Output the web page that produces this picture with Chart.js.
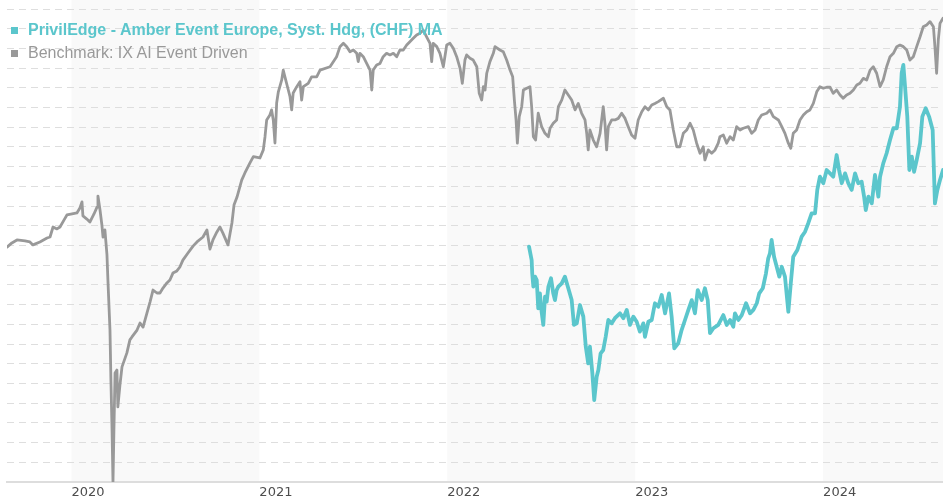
<!DOCTYPE html>
<html>
<head>
<meta charset="utf-8">
<script src="https://cdn.jsdelivr.net/npm/chart.js@4.4.1/dist/chart.umd.min.js"></script>
<style>
    html, body { margin: 0; padding: 0; background: #fff; }
    #wrap { position: relative; width: 943px; height: 500px; }
    #legend {
        position: absolute; left: 11px; top: 18px;
        font-family: "Liberation Sans", Arial, sans-serif;
        font-size: 16px; line-height: 23px; pointer-events: none;
    }
    #legend .item { white-space: nowrap; }
    #legend .box { display: inline-block; width: 7px; height: 7px; margin-right: 10px; vertical-align: 1px; }
</style>
</head>
<body>
<div id="wrap">
    <canvas id="myChart" width="943" height="500"></canvas>
    <div id="legend"></div>
</div>
<script>
// x values are fractional years, y values an index without printed scale
const seriesNames = ['PrivilEdge - Amber Event Europe, Syst. Hdg, (CHF) MA', 'Benchmark: IX AI Event Driven']
const seriesColors = ['#5bc6cc', '#999999']
const yearTicks = [2020, 2021, 2022, 2023, 2024]
const shadedYears = [2020, 2022, 2024]

const fundX = [
    2022.435, 2022.449, 2022.452, 2022.458, 2022.467, 2022.476, 2022.484, 2022.493, 2022.502, 2022.511,
    2022.520, 2022.529, 2022.538, 2022.552, 2022.564, 2022.573, 2022.582, 2022.591, 2022.609, 2022.626,
    2022.644, 2022.662, 2022.674, 2022.689, 2022.706, 2022.724, 2022.737, 2022.750, 2022.759, 2022.772,
    2022.782, 2022.795, 2022.804, 2022.816, 2022.830, 2022.843, 2022.857, 2022.875, 2022.892, 2022.919,
    2022.937, 2022.955, 2022.972, 2022.990, 2023.008, 2023.025, 2023.043, 2023.052, 2023.070, 2023.088,
    2023.105, 2023.123, 2023.141, 2023.159, 2023.180, 2023.194, 2023.208, 2023.229, 2023.247, 2023.265,
    2023.283, 2023.301, 2023.318, 2023.333, 2023.354, 2023.371, 2023.386, 2023.398, 2023.416, 2023.442,
    2023.469, 2023.487, 2023.505, 2023.522, 2023.531, 2023.549, 2023.567, 2023.590, 2023.611, 2023.629,
    2023.647, 2023.660, 2023.679, 2023.696, 2023.708, 2023.717, 2023.726, 2023.739, 2023.753, 2023.767,
    2023.780, 2023.797, 2023.815, 2023.828, 2023.841, 2023.863, 2023.886, 2023.904, 2023.921, 2023.939,
    2023.957, 2023.969, 2023.983, 2024.001, 2024.019, 2024.037, 2024.054, 2024.072, 2024.085, 2024.099,
    2024.117, 2024.134, 2024.152, 2024.170, 2024.187, 2024.205, 2024.218, 2024.227, 2024.241, 2024.259,
    2024.276, 2024.294, 2024.303, 2024.320, 2024.338, 2024.356, 2024.374, 2024.392, 2024.409, 2024.418,
    2024.427, 2024.436, 2024.448, 2024.459, 2024.472, 2024.484, 2024.498, 2024.516, 2024.528, 2024.546,
    2024.564, 2024.583, 2024.595, 2024.608, 2024.622, 2024.638
]
const fundY = [
    119.4, 112.6, 105.9, 99.1, 104.2, 102.5, 88.1, 95.7, 86.4, 79.7,
    94.0, 91.5, 99.1, 103.4, 95.7, 92.3, 97.4, 99.1, 100.8, 104.2,
    98.3, 92.3, 79.7, 80.5, 89.8, 83.9, 68.7, 60.2, 68.7, 55.2,
    41.6, 53.4, 56.8, 65.3, 67.0, 73.7, 82.2, 80.5, 83.1, 85.6,
    83.1, 87.3, 79.7, 83.9, 81.3, 76.3, 80.5, 73.7, 81.3, 82.2,
    90.7, 88.9, 94.9, 85.6, 95.7, 83.9, 67.8, 70.4, 77.1, 82.2,
    87.3, 92.3, 85.6, 97.4, 92.3, 98.3, 92.3, 75.5, 78.0, 79.7,
    84.7, 79.7, 82.2, 78.8, 85.6, 82.2, 84.7, 90.7, 85.6, 87.3,
    90.7, 95.7, 98.3, 105.9, 113.5, 116.0, 122.8, 114.3, 109.2, 104.2,
    109.2, 104.2, 86.4, 100.8, 114.3, 117.7, 124.5, 127.0, 131.3, 136.3,
    136.3, 148.2, 154.9, 151.6, 158.3, 156.6, 154.9, 165.9, 158.3, 151.6,
    156.6, 151.6, 148.2, 156.6, 151.6, 152.4, 144.8, 138.0, 144.8, 141.4,
    155.8, 144.8, 154.9, 161.7, 166.8, 173.5, 179.5, 179.5, 190.4, 207.4,
    211.6, 200.6, 185.4, 158.3, 165.1, 157.4, 163.4, 171.9, 185.4, 189.6,
    185.4, 178.6, 141.4, 148.2, 153.2, 158.3
]

const benchX = [
    2019.657, 2019.683, 2019.710, 2019.753, 2019.779, 2019.795, 2019.832, 2019.870, 2019.886, 2019.902,
    2019.923, 2019.939, 2019.960, 2019.976, 2020.003, 2020.029, 2020.045, 2020.056, 2020.061, 2020.082,
    2020.098, 2020.120, 2020.136, 2020.141, 2020.152, 2020.162, 2020.168, 2020.178, 2020.189, 2020.194,
    2020.205, 2020.210, 2020.216, 2020.221, 2020.226, 2020.232, 2020.242, 2020.247, 2020.258, 2020.269,
    2020.295, 2020.311, 2020.322, 2020.349, 2020.365, 2020.381, 2020.402, 2020.418, 2020.434, 2020.455,
    2020.471, 2020.487, 2020.508, 2020.524, 2020.540, 2020.561, 2020.577, 2020.593, 2020.620, 2020.647,
    2020.668, 2020.700, 2020.721, 2020.737, 2020.753, 2020.774, 2020.790, 2020.806, 2020.833, 2020.854,
    2020.865, 2020.881, 2020.906, 2020.923, 2020.950, 2020.968, 2021.003, 2021.021, 2021.030, 2021.039,
    2021.056, 2021.065, 2021.074, 2021.083, 2021.092, 2021.101, 2021.119, 2021.127, 2021.136, 2021.154,
    2021.163, 2021.172, 2021.180, 2021.199, 2021.216, 2021.225, 2021.234, 2021.260, 2021.278, 2021.305,
    2021.323, 2021.376, 2021.411, 2021.429, 2021.447, 2021.465, 2021.482, 2021.500, 2021.518, 2021.526,
    2021.535, 2021.553, 2021.571, 2021.589, 2021.598, 2021.606, 2021.624, 2021.642, 2021.659, 2021.677,
    2021.695, 2021.713, 2021.731, 2021.748, 2021.766, 2021.784, 2021.801, 2021.819, 2021.837, 2021.855,
    2021.872, 2021.890, 2021.908, 2021.917, 2021.925, 2021.944, 2021.961, 2021.979, 2021.997, 2022.014,
    2022.032, 2022.050, 2022.068, 2022.080, 2022.094, 2022.103, 2022.121, 2022.138, 2022.157, 2022.170,
    2022.183, 2022.192, 2022.201, 2022.210, 2022.227, 2022.245, 2022.254, 2022.280, 2022.298, 2022.316,
    2022.334, 2022.348, 2022.357, 2022.366, 2022.373, 2022.383, 2022.396, 2022.405, 2022.423, 2022.440,
    2022.449, 2022.458, 2022.470, 2022.484, 2022.502, 2022.520, 2022.538, 2022.547, 2022.564, 2022.582,
    2022.591, 2022.609, 2022.626, 2022.644, 2022.662, 2022.680, 2022.697, 2022.715, 2022.733, 2022.742,
    2022.750, 2022.759, 2022.777, 2022.795, 2022.813, 2022.830, 2022.839, 2022.848, 2022.857, 2022.875,
    2022.892, 2022.910, 2022.928, 2022.946, 2022.963, 2022.981, 2022.999, 2023.016, 2023.035, 2023.052,
    2023.070, 2023.088, 2023.105, 2023.123, 2023.150, 2023.168, 2023.185, 2023.203, 2023.221, 2023.238,
    2023.256, 2023.274, 2023.292, 2023.309, 2023.327, 2023.345, 2023.362, 2023.371, 2023.389, 2023.407,
    2023.425, 2023.442, 2023.451, 2023.469, 2023.487, 2023.505, 2023.522, 2023.540, 2023.558, 2023.575,
    2023.602, 2023.620, 2023.638, 2023.655, 2023.673, 2023.700, 2023.717, 2023.735, 2023.762, 2023.780,
    2023.797, 2023.815, 2023.828, 2023.841, 2023.859, 2023.877, 2023.895, 2023.913, 2023.930, 2023.948,
    2023.966, 2023.983, 2024.001, 2024.019, 2024.037, 2024.054, 2024.072, 2024.090, 2024.107, 2024.125,
    2024.143, 2024.161, 2024.179, 2024.196, 2024.214, 2024.232, 2024.250, 2024.267, 2024.285, 2024.303,
    2024.320, 2024.338, 2024.356, 2024.374, 2024.392, 2024.409, 2024.427, 2024.445, 2024.462, 2024.480,
    2024.498, 2024.516, 2024.533, 2024.551, 2024.569, 2024.587, 2024.595, 2024.604, 2024.613, 2024.622, 2024.638
]
const benchY = [
    119.2, 121.3, 122.8, 122.3, 121.8, 120.3, 121.8, 123.8, 124.3, 129.4,
    128.4, 129.4, 132.9, 135.5, 136.0, 136.5, 139.0, 142.1, 135.0, 133.4,
    131.9, 136.0, 139.5, 145.1, 138.0, 130.4, 124.3, 127.9, 115.2, 102.5,
    77.1, 51.8, 26.4, 0, 26.4, 55.3, 56.8, 38.1, 49.2, 58.4,
    65.5, 72.1, 73.6, 77.1, 80.7, 78.6, 85.8, 91.3, 97.4, 95.9,
    95.9, 98.4, 101.0, 102.5, 106.0, 107.1, 109.1, 112.6, 116.2, 119.7,
    121.8, 124.3, 127.9, 118.2, 122.8, 126.9, 129.4, 126.3, 120.3, 131.4,
    140.5, 144.6, 153.2, 156.8, 161.9, 165.1, 164.4, 168.5, 175.2, 183.7,
    186.2, 188.8, 183.7, 172.0, 192.3, 198.0, 204.0, 209.0, 205.6, 198.9,
    195.5, 188.8, 197.4, 200.6, 203.1, 193.8, 200.6, 202.3, 205.6, 205.6,
    209.0, 210.7, 215.8, 220.9, 222.6, 220.9, 218.3, 219.2, 217.5, 213.3,
    217.5, 215.8, 212.4, 209.0, 198.9, 209.0, 211.6, 212.4, 215.8, 217.5,
    216.7, 217.5, 215.8, 219.2, 219.2, 221.7, 223.4, 225.1, 226.8, 227.7,
    229.3, 225.9, 222.6, 213.3, 222.6, 220.9, 217.5, 210.7, 221.7, 222.6,
    220.1, 215.8, 209.9, 202.3, 214.1, 216.7, 215.0, 214.1, 210.7, 197.2,
    193.8, 200.6, 198.9, 207.4, 213.3, 217.5, 220.9, 219.2, 218.3, 214.1,
    209.0, 205.6, 193.8, 183.7, 171.9, 185.4, 190.4, 198.9, 199.8, 200.6,
    190.4, 175.2, 173.5, 187.1, 180.3, 176.9, 175.2, 179.5, 182.0, 183.7,
    190.4, 193.8, 198.9, 196.4, 193.8, 188.8, 192.1, 187.1, 183.7, 176.9,
    168.5, 178.6, 173.5, 170.1, 176.9, 190.4, 182.0, 168.5, 180.3, 183.7,
    183.7, 184.5, 187.1, 184.5, 180.3, 176.1, 174.4, 183.7, 187.9, 190.4,
    188.8, 191.3, 192.1, 193.0, 194.7, 190.4, 188.8, 178.6, 170.1, 170.1,
    176.9, 178.6, 182.0, 178.6, 171.9, 166.8, 170.1, 163.4, 168.5, 166.8,
    168.5, 171.9, 175.2, 176.1, 171.9, 175.2, 173.5, 180.3, 178.6, 179.5,
    180.3, 176.9, 178.6, 183.7, 186.2, 187.1, 188.8, 185.4, 183.7, 180.3,
    176.9, 171.9, 169.3, 176.9, 178.6, 183.7, 186.2, 187.9, 188.8, 192.1,
    198.0, 200.6, 199.8, 200.3, 200.3, 197.2, 198.9, 196.4, 194.7, 196.4,
    197.2, 198.9, 201.4, 202.3, 204.8, 204.0, 209.0, 210.7, 207.4, 200.6,
    204.0, 210.7, 215.8, 217.5, 220.9, 221.7, 220.9, 219.2, 214.1, 215.8,
    220.9, 225.9, 231.0, 231.9, 233.6, 231.0, 220.9, 207.4, 224.3, 232.7, 235.3
]

const toPoints = (xs, ys) => xs.map((x, i) => ({ x: x, y: ys[i] }))

// light grey band behind every other calendar year
const yearBands = {
    id: 'yearBands',
    beforeDraw(chart) {
        const { ctx, chartArea, scales } = chart
        const x = scales.x
        ctx.save()
        ctx.fillStyle = '#f9f9f9'
        shadedYears.forEach(year => {
            const left = Math.max(x.getPixelForValue(year), chartArea.left)
            const right = Math.min(x.getPixelForValue(year + 1), chartArea.right)
            if (right > left) ctx.fillRect(left, 0, right - left, chartArea.bottom)
        })
        ctx.restore()
    }
}

// html legend, first entry bold
const legendEl = document.getElementById('legend')
seriesNames.forEach((name, i) => {
    const row = document.createElement('div')
    row.className = 'item'
    row.style.color = seriesColors[i]
    row.style.fontWeight = i === 0 ? 'bold' : 'normal'
    const box = document.createElement('span')
    box.className = 'box'
    box.style.background = seriesColors[i]
    row.appendChild(box)
    row.appendChild(document.createTextNode(name))
    legendEl.appendChild(row)
})

const ctx = document.getElementById('myChart').getContext('2d')
const chart = new Chart(ctx, {
    type: 'line',
    data: {
        datasets: [{
            label: seriesNames[0],
            data: toPoints(fundX, fundY),
            borderColor: seriesColors[0],
            borderWidth: 3.8
        }, {
            label: seriesNames[1],
            data: toPoints(benchX, benchY),
            borderColor: seriesColors[1],
            borderWidth: 2.8
        }]
    },
    options: {
        responsive: false,
        animation: false,
        layout: { padding: { left: 7, top: 9, right: 0, bottom: 0 } },
        elements: {
            point: { radius: 0, hoverRadius: 0 },
            line: { tension: 0, borderJoinStyle: 'round', borderCapStyle: 'round' }
        },
        plugins: {
            legend: { display: false },
            tooltip: { enabled: false }
        },
        scales: {
            x: {
                type: 'linear',
                min: 2019.657,
                max: 2024.638,
                afterBuildTicks: axis => { axis.ticks = yearTicks.map(v => ({ value: v })) },
                afterFit: axis => { axis.height = 18 },
                grid: { display: false, drawTicks: false },
                border: { display: true, color: '#dddddd', width: 2 },
                ticks: {
                    align: 'start',
                    padding: 3,
                    maxRotation: 0,
                    autoSkip: false,
                    color: '#4d4d4d',
                    font: { family: 'DejaVu Sans', size: 13 },
                    callback: v => String(v)
                }
            },
            y: {
                min: 0,
                max: 240,
                afterFit: axis => { axis.width = 0 },
                ticks: { display: false, stepSize: 10, maxTicksLimit: 50 },
                grid: { color: '#dedede', drawTicks: false },
                border: { display: false, dash: [7, 5] }
            }
        }
    },
    plugins: [yearBands]
})
</script>
</body>
</html>
